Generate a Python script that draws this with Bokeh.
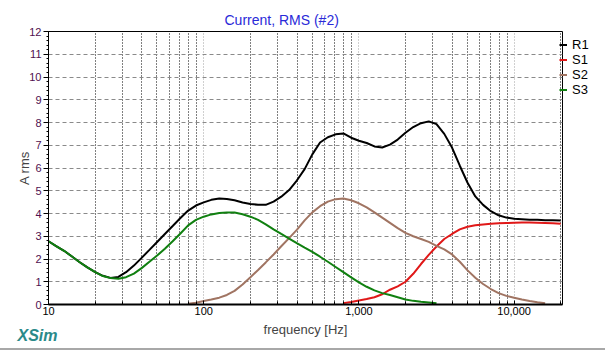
from bokeh.plotting import figure
from bokeh.models import (Range1d, FixedTicker, Legend, LegendItem, Title,
                          CustomJSTickFormatter)
from bokeh.embed import file_html
from bokeh.resources import INLINE

# ---- data, 1/6-decade frequency grid ----
freq = [10, 11.2, 12.6, 14.1, 15.8, 17.8, 20, 22.4, 25.1, 28.2, 31.6, 35.5, 39.8, 44.7,
        50.1, 56.2, 63.1, 70.8, 79.4, 89.1, 100, 112, 126, 141, 158, 178, 200, 224, 251,
        282, 316, 355, 398, 447, 501, 562, 631, 708, 794, 891, 1000, 1122, 1259, 1413,
        1585, 1778, 1995, 2239, 2512, 2818, 3162, 3548, 3981, 4467, 5012, 5623, 6310,
        7079, 7943, 8913, 10000, 11220, 12589, 14125, 15849, 17783, 19953]

r1 = [2.78, 2.57, 2.36, 2.12, 1.87, 1.63, 1.42, 1.26, 1.17, 1.21, 1.42, 1.71, 2.05, 2.40,
      2.75, 3.10, 3.45, 3.80, 4.13, 4.35, 4.49, 4.60, 4.66, 4.64, 4.58, 4.48, 4.42, 4.38,
      4.38, 4.52, 4.74, 5.03, 5.45, 5.95, 6.60, 7.12, 7.35, 7.48, 7.52, 7.33, 7.20, 7.10,
      6.95, 6.90, 7.03, 7.25, 7.55, 7.80, 7.97, 8.05, 7.93, 7.50, 6.90, 6.10, 5.35, 4.75,
      4.38, 4.10, 3.92, 3.82, 3.77, 3.75, 3.73, 3.72, 3.70, 3.70, 3.69]

s1_freq = freq[38:]
s1 = [0.06, 0.11, 0.18, 0.24, 0.32, 0.45, 0.65, 0.80, 1.00, 1.35, 1.78, 2.18, 2.55, 2.88,
      3.10, 3.30, 3.42, 3.48, 3.52, 3.55, 3.57, 3.58, 3.59, 3.60, 3.60, 3.59, 3.58, 3.57,
      3.55]

s2_freq = freq[18:65]
s2 = [0.03, 0.08, 0.15, 0.22, 0.30, 0.42, 0.60, 0.88, 1.20, 1.52, 1.85, 2.20, 2.56, 2.92,
      3.28, 3.70, 4.05, 4.32, 4.52, 4.63, 4.66, 4.58, 4.45, 4.27, 4.05, 3.82, 3.59, 3.36,
      3.15, 3.00, 2.88, 2.75, 2.58, 2.42, 2.20, 1.88, 1.50, 1.18, 0.90, 0.68, 0.50, 0.38,
      0.30, 0.22, 0.15, 0.10, 0.06]

s3_freq = freq[:51]
s3 = [2.78, 2.57, 2.36, 2.12, 1.87, 1.63, 1.42, 1.25, 1.16, 1.13, 1.20, 1.36, 1.60, 1.88,
      2.15, 2.45, 2.78, 3.12, 3.48, 3.72, 3.86, 3.96, 4.02, 4.04, 4.04, 3.97, 3.86, 3.72,
      3.52, 3.30, 3.10, 2.90, 2.70, 2.50, 2.31, 2.10, 1.88, 1.65, 1.42, 1.19, 0.97, 0.78,
      0.62, 0.50, 0.42, 0.32, 0.22, 0.16, 0.12, 0.09, 0.06]

series_names = ["R1", "S1", "S2", "S3"]
series_colors = ["#000000", "#e01818", "#a07462", "#108010"]

x_ticks = [10, 100, 1000, 10000]
y_ticks = list(range(0, 13))

FONT = "Liberation Sans"

p = figure(width=605, height=351, x_axis_type="log",
           x_range=Range1d(10, 20500), y_range=Range1d(0, 12),
           output_backend="svg", toolbar_location=None,
           min_border_left=48, min_border_right=43, min_border_top=31, min_border_bottom=47,
           frame_width=514, frame_height=273)
p.background_fill_color = "white"
p.border_fill_color = None
p.outline_line_color = "black"
p.outline_line_width = 1
p.styles = {"background-color": "white",
            "box-shadow": "inset -1px -1px 0 0 white, inset -3px -3px 0 0 #a8a8a8"}

# title
p.title.text = "Current, RMS (#2)"
p.title.align = "left"
p.title.offset = 176
p.title.text_font = FONT
p.title.text_font_size = "14px"
p.title.text_font_style = "normal"
p.title.text_color = "#2a2ad8"
p.title.standoff = 8

# axes
xa = p.xaxis[0]
xa.ticker = FixedTicker(ticks=x_ticks,
                        minor_ticks=[m * d for d in [10, 100, 1000, 10000] for m in range(2, 10)])
xa.formatter = CustomJSTickFormatter(code="return Math.round(tick).toLocaleString('en-US');")
xa.axis_line_color = "black"
xa.axis_line_width = 2
xa.major_tick_line_color = "black"
xa.major_tick_out = 0
xa.major_tick_in = 4
xa.minor_tick_line_color = "black"
xa.minor_tick_out = 0
xa.minor_tick_in = 3
xa.major_label_text_font = FONT
xa.major_label_text_font_size = "11px"
xa.major_label_text_color = "black"
xa.major_label_standoff = 2
xa.axis_label = "frequency [Hz]"
xa.axis_label_text_font = FONT
xa.axis_label_text_font_size = "13px"
xa.axis_label_text_font_style = "normal"
xa.axis_label_standoff = 4

ya = p.yaxis[0]
ya.ticker = FixedTicker(ticks=y_ticks, minor_ticks=[i / 5 for i in range(0, 61)])
ya.axis_line_color = "black"
ya.major_tick_line_color = "black"
ya.major_tick_out = 5
ya.major_tick_in = 0
ya.minor_tick_line_color = "black"
ya.minor_tick_out = 2
ya.minor_tick_in = 0
ya.major_label_text_font = FONT
ya.major_label_text_font_size = "11px"
ya.major_label_text_color = "#501050"
ya.major_label_standoff = 2
ya.axis_label = "A rms"
ya.axis_label_text_font = FONT
ya.axis_label_text_font_size = "13px"
ya.axis_label_text_font_style = "normal"
ya.axis_label_standoff = -6

# grids
xg = p.xgrid[0]
xg.grid_line_color = "#a0a0a0"
xg.grid_line_dash = "1 2"
xg.minor_grid_line_color = "black"
xg.minor_grid_line_dash = "1 2"
yg = p.ygrid[0]
yg.grid_line_color = "#8a8a8a"
yg.grid_line_dash = "4 3"

# curves
xs_all = [freq, s1_freq, s2_freq, s3_freq]
ys_all = [r1, s1, s2, s3]
renderers = []
for xs, ys, c in zip(xs_all, ys_all, series_colors):
    renderers.append(p.line(xs, ys, line_color=c, line_width=2))

legend = Legend(items=[LegendItem(label=n, renderers=[r]) for n, r in zip(series_names, renderers)],
                location=(-3, 207), orientation="vertical",
                glyph_width=8, glyph_height=15, label_height=15, spacing=0,
                padding=0, margin=0, label_standoff=5,
                label_text_font=FONT, label_text_font_size="13px", label_text_color="black",
                border_line_color=None, background_fill_alpha=0)
p.add_layout(legend, "right")

# program tag in the lower-left corner
tag = Title(text="XSim", align="left", offset=-31, vertical_align="top", standoff=-26,
            text_font=FONT, text_font_size="16px", text_font_style="bold italic",
            text_color="#2a8a8a")
p.add_layout(tag, "below")

open("out.html", "w").write(file_html(p, INLINE))
